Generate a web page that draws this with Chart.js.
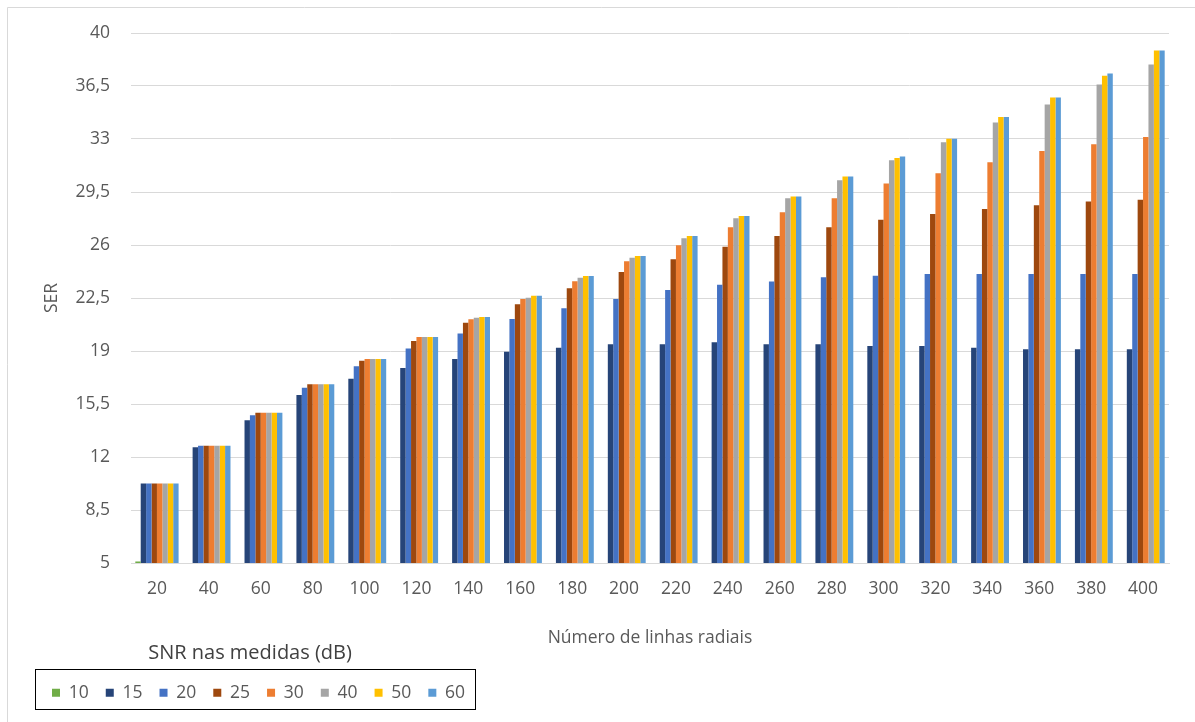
<!DOCTYPE html>
<html lang="pt">
<head>
<meta charset="utf-8">
<title>SER por número de linhas radiais</title>
<script src="https://cdn.jsdelivr.net/npm/chart.js@4/dist/chart.umd.min.js"></script>
<style>
  html, body { margin: 0; padding: 0; background: #ffffff; }
  #wrap { width: 1195px; height: 722px; position: relative; }
</style>
</head>
<body>
<div id="wrap"><canvas id="chart"></canvas></div>
<script>
// Número de linhas radiais (categorias do eixo X)
const linhasRadiais = [20, 40, 60, 80, 100, 120, 140, 160, 180, 200, 220, 240, 260, 280, 300, 320, 340, 360, 380, 400];

// SER obtido para cada SNR nas medidas (dB)
const ser10 = [5.1, null, null, null, null, null, null, null, null, null, null, null, null, null, null, null, null, null, null, null];
const ser15 = [10.25, 12.65, 14.43, 16.09, 17.16, 17.87, 18.47, 18.95, 19.21, 19.44, 19.44, 19.57, 19.44, 19.45, 19.33, 19.33, 19.21, 19.11, 19.11, 19.11];
const ser20 = [10.25, 12.75, 14.76, 16.57, 18.0, 19.17, 20.15, 21.11, 21.82, 22.43, 23.03, 23.38, 23.59, 23.87, 23.97, 24.09, 24.09, 24.09, 24.09, 24.09];
const ser25 = [10.25, 12.75, 14.92, 16.81, 18.35, 19.66, 20.87, 22.08, 23.14, 24.22, 25.06, 25.89, 26.6, 27.18, 27.66, 28.05, 28.38, 28.63, 28.87, 28.98];
const ser30 = [10.25, 12.75, 14.92, 16.81, 18.47, 19.92, 21.09, 22.43, 23.6, 24.93, 25.98, 27.17, 28.17, 29.09, 30.06, 30.74, 31.47, 32.2, 32.66, 33.14];
const ser40 = [10.25, 12.75, 14.92, 16.81, 18.47, 19.92, 21.2, 22.52, 23.84, 25.16, 26.45, 27.77, 29.09, 30.28, 31.6, 32.79, 34.09, 35.28, 36.6, 37.92];
const ser50 = [10.25, 12.75, 14.92, 16.81, 18.47, 19.92, 21.25, 22.65, 23.95, 25.28, 26.6, 27.92, 29.21, 30.52, 31.74, 33.01, 34.45, 35.74, 37.18, 38.85];
const ser60 = [10.25, 12.75, 14.92, 16.81, 18.47, 19.92, 21.25, 22.65, 23.95, 25.28, 26.6, 27.92, 29.21, 30.52, 31.84, 33.01, 34.45, 35.74, 37.33, 38.85];

// Rótulos das séries e marcas do eixo Y
const snrLabels = ['10', '15', '20', '25', '30', '40', '50', '60'];
const yTickValues = [5, 8.5, 12, 15.5, 19, 22.5, 26, 29.5, 33, 36.5, 40];

const seriesData = [ser10, ser15, ser20, ser25, ser30, ser40, ser50, ser60];
const seriesColors = ['#70AD47', '#264478', '#4472C4', '#9E480E', '#ED7D31', '#A5A5A5', '#FFC000', '#5B9BD5'];

const FONT = "'Open Sans', 'Noto Sans', sans-serif";
const TEXT_GRAY = '#595959';
const GRID_GRAY = '#d9d9d9';

// Fundo branco e moldura clara da área do gráfico
const frame = {
  id: 'frame',
  beforeDraw(chart) {
    const ctx = chart.ctx;
    ctx.save();
    ctx.fillStyle = '#ffffff';
    ctx.fillRect(0, 0, chart.width, chart.height);
    ctx.strokeStyle = GRID_GRAY;
    ctx.lineWidth = 1;
    ctx.beginPath();
    ctx.moveTo(7.5, chart.height);
    ctx.lineTo(7.5, 7.5);
    ctx.lineTo(chart.width, 7.5);
    ctx.stroke();
    ctx.restore();
  }
};

// Contorno preto em volta dos itens da legenda
const legendBox = {
  id: 'legendBox',
  afterDraw(chart) {
    const boxes = chart.legend && chart.legend.legendHitBoxes;
    if (!boxes || !boxes.length) return;
    const first = boxes[0];
    const last = boxes[boxes.length - 1];
    const x0 = Math.round(first.left - 17) + 0.5;
    const x1 = Math.round(last.left + last.width + 10) + 0.5;
    const y0 = Math.round(first.top - 15) + 0.5;
    const y1 = Math.round(first.top + first.height + 7) + 0.5;
    const ctx = chart.ctx;
    ctx.save();
    ctx.strokeStyle = '#000000';
    ctx.lineWidth = 1;
    ctx.strokeRect(x0, y0, x1 - x0, y1 - y0);
    ctx.restore();
  }
};

new Chart(document.getElementById('chart'), {
  type: 'bar',
  data: {
    labels: linhasRadiais.map(String),
    datasets: snrLabels.map((lbl, i) => ({
      label: lbl,
      data: seriesData[i],
      backgroundColor: seriesColors[i],
      borderWidth: 0,
      categoryPercentage: 0.834,
      barPercentage: 1.0
    }))
  },
  options: {
    responsive: true,
    maintainAspectRatio: false,
    animation: false,
    layout: { padding: { left: 35, right: 26, top: 33, bottom: 10.5 } },
    plugins: {
      tooltip: { enabled: false },
      legend: {
        position: 'bottom',
        align: 'start',
        title: {
          display: true,
          text: 'SNR nas medidas (dB)',
          color: '#404040',
          font: { family: FONT, size: 20 },
          padding: { top: 0, bottom: 0 }
        },
        labels: {
          color: TEXT_GRAY,
          font: { family: FONT, size: 17.5 },
          boxWidth: 8,
          boxHeight: 8,
          padding: 17
        }
      }
    },
    scales: {
      x: {
        grid: { display: false, drawTicks: false },
        border: { display: true, color: GRID_GRAY, width: 1 },
        ticks: { color: TEXT_GRAY, font: { family: FONT, size: 17.5 }, padding: 16, maxRotation: 0, autoSkip: false },
        title: {
          display: true,
          text: 'Número de linhas radiais',
          color: TEXT_GRAY,
          font: { family: FONT, size: 17.5 },
          padding: { top: 0, bottom: -6 }
        },
        afterFit(scale) { scale.height = 80; }
      },
      y: {
        min: 5,
        max: 40,
        grid: { color: GRID_GRAY, lineWidth: 1, drawTicks: false },
        border: { display: false },
        afterBuildTicks(scale) { scale.ticks = yTickValues.map(v => ({ value: v })); },
        ticks: {
          color: TEXT_GRAY,
          font: { family: FONT, size: 17.5 },
          padding: 21,
          callback: v => String(v).replace('.', ',')
        },
        title: {
          display: true,
          text: 'SER',
          color: TEXT_GRAY,
          font: { family: FONT, size: 17.5 },
          padding: { top: 7, bottom: 0 }
        },
        afterFit(scale) { scale.width = 96; }
      }
    }
  },
  plugins: [frame, legendBox]
});
</script>
</body>
</html>
